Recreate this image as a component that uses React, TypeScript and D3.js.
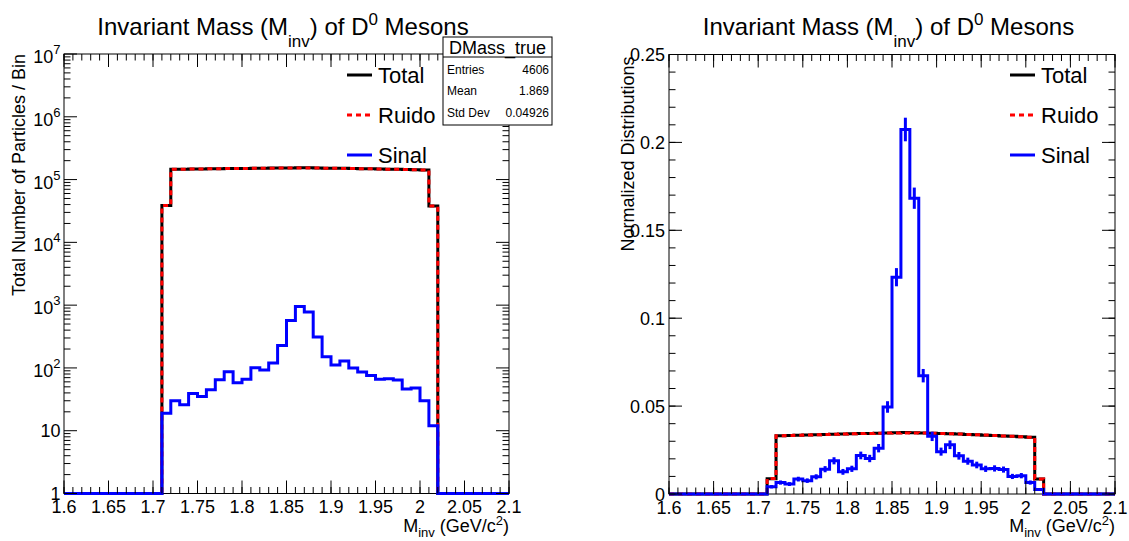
import React from 'react';
import * as d3 from 'd3';

// Histogram binning: 50 bins of 0.01 GeV/c^2 between 1.6 and 2.1
const X_MIN = 1.6;
const X_MAX = 2.1;
const N_BINS = 50;

// D0 signal ("Sinal") counts per bin
const sinalCounts = [
  0, 0, 0, 0, 0, 0, 0, 0, 0, 0, 0,
  19, 30, 26, 39, 35, 45, 65, 87, 58, 66,
  101, 93, 120, 228, 568, 955, 775, 310, 151, 111,
  129, 100, 86, 76, 66, 67, 64, 46, 48, 30,
  12,
  0, 0, 0, 0, 0, 0, 0, 0,
];

// Combinatorial background ("Ruido") counts per bin
const ruidoCounts = [
  0, 0, 0, 0, 0, 0, 0, 0, 0, 0, 0,
  38500, 145800, 146300, 147000, 147600, 148300, 149000, 149600, 150200, 150700,
  151200, 151700, 152100, 152400, 152700, 152900, 152800, 152500, 152000, 151400,
  150700, 150000, 149200, 148300, 147400, 146400, 145400, 144400, 143400, 142300,
  37800,
  0, 0, 0, 0, 0, 0, 0, 0,
];

// Total = background + signal
const totalCounts = ruidoCounts.map((r, i) => r + sinalCounts[i]);

const statsTitle = 'DMass_true';
const statsMean = '1.869';
const statsStdDev = '0.04926';

const legendLabels = ['Total', 'Ruido', 'Sinal'];

const W = 1129;
const H = 541;
const FONT = '"Liberation Sans", Arial, Helvetica, sans-serif';

const BLUE = '#0000ff';
const RED = '#ff0000';
const BLACK = '#000000';
const DASH = '5 4';

type Frame = { x0: number; x1: number; y0: number; y1: number };

const leftFrame: Frame = { x0: 64, x1: 509, y0: 54, y1: 493.5 };
const rightFrame: Frame = { x0: 669, x1: 1115, y0: 54.5, y1: 494 };

const binEdges = d3.range(N_BINS + 1).map((i) => X_MIN + (i * (X_MAX - X_MIN)) / N_BINS);
const binCenters = d3.range(N_BINS).map((i) => (binEdges[i] + binEdges[i + 1]) / 2);

const fmtX = (d: number) => String(+d.toFixed(2));

function stepPath(values: number[], x: (v: number) => number, y: (v: number) => number) {
  const pts: [number, number][] = [];
  values.forEach((v, i) => {
    pts.push([x(binEdges[i]), y(v)]);
    pts.push([x(binEdges[i + 1]), y(v)]);
  });
  return d3.line()(pts) || '';
}

const MAJOR = 13;
const MINOR = 6.5;
const LABEL_SIZE = 18;

function XAxis({ frame, x }: { frame: Frame; x: d3.ScaleLinear<number, number> }) {
  const major = x.ticks(10);
  const minor = x.ticks(50);
  return (
    <g>
      {minor.map((t, i) => (
        <g key={'m' + i}>
          <line x1={x(t)} x2={x(t)} y1={frame.y1} y2={frame.y1 - MINOR} stroke={BLACK} />
          <line x1={x(t)} x2={x(t)} y1={frame.y0} y2={frame.y0 + MINOR} stroke={BLACK} />
        </g>
      ))}
      {major.map((t, i) => (
        <g key={'M' + i}>
          <line x1={x(t)} x2={x(t)} y1={frame.y1} y2={frame.y1 - MAJOR} stroke={BLACK} />
          <line x1={x(t)} x2={x(t)} y1={frame.y0} y2={frame.y0 + MAJOR} stroke={BLACK} />
          <text x={x(t)} y={frame.y1 + 19.5} textAnchor="middle" fontSize={LABEL_SIZE}>
            {fmtX(t)}
          </text>
        </g>
      ))}
      <text x={frame.x1} y={532} textAnchor="end" fontSize={LABEL_SIZE}>
        M<tspan dy={5} fontSize={13}>inv</tspan>
        <tspan dy={-5}> (GeV/c</tspan>
        <tspan dy={-7} fontSize={13}>2</tspan>
        <tspan dy={7}>)</tspan>
      </text>
    </g>
  );
}

function LeftPanel() {
  const f = leftFrame;
  const x = d3.scaleLinear().domain([X_MIN, X_MAX]).range([f.x0, f.x1]);
  const yl = d3.scaleLog().domain([1, 1e7]).range([f.y1, f.y0]);
  const y = (v: number) => (v >= 1 ? yl(v) : f.y1);
  const logTicks = yl.ticks();
  const decades = d3.range(0, 8);
  const cx = (f.x0 + f.x1) / 2 - 3.5;
  return (
    <g>
      <rect x={f.x0} y={f.y0} width={f.x1 - f.x0} height={f.y1 - f.y0} fill="none" stroke={BLACK} />
      <path d={stepPath(totalCounts, x, y)} fill="none" stroke={BLACK} strokeWidth={3} />
      <path d={stepPath(ruidoCounts, x, y)} fill="none" stroke={RED} strokeWidth={3} strokeDasharray={DASH} />
      <path d={stepPath(sinalCounts, x, y)} fill="none" stroke={BLUE} strokeWidth={3} />
      <XAxis frame={f} x={x} />
      {logTicks.map((t, i) => {
        const isMajor = Math.abs(Math.log10(t) - Math.round(Math.log10(t))) < 1e-9;
        const len = isMajor ? MAJOR : MINOR;
        return (
          <g key={'y' + i}>
            <line x1={f.x0} x2={f.x0 + len} y1={yl(t)} y2={yl(t)} stroke={BLACK} />
            <line x1={f.x1} x2={f.x1 - len} y1={yl(t)} y2={yl(t)} stroke={BLACK} />
          </g>
        );
      })}
      {decades.map((k) => (
        <text key={'yl' + k} x={f.x0 - 3.5} y={yl(Math.pow(10, k)) + (k < 2 ? 6.5 : 9)} textAnchor="end" fontSize={LABEL_SIZE}>
          {k === 0 ? '1' : k === 1 ? '10' : (
            <>
              10<tspan dy={-9} fontSize={13}>{k}</tspan>
            </>
          )}
        </text>
      ))}
      <text transform={`translate(24.5,${f.y0}) rotate(-90)`} textAnchor="end" fontSize={LABEL_SIZE}>
        Total Number of Particles / Bin
      </text>
      <Title cx={cx} />
      <Legend x0={347} />
      <StatsBox />
    </g>
  );
}

function RightPanel() {
  const f = rightFrame;
  const x = d3.scaleLinear().domain([X_MIN, X_MAX]).range([f.x0, f.x1]);
  const y = d3.scaleLinear().domain([0, 0.25]).range([f.y1, f.y0]);
  const sumT = d3.sum(totalCounts);
  const sumR = d3.sum(ruidoCounts);
  const sumS = d3.sum(sinalCounts);
  const nT = totalCounts.map((v) => v / sumT);
  const nR = ruidoCounts.map((v) => v / sumR);
  const nS = sinalCounts.map((v) => v / sumS);
  const eS = sinalCounts.map((v) => Math.sqrt(v) / sumS);
  const major = y.ticks(5);
  const minor = y.ticks(25);
  const cx = (f.x0 + f.x1) / 2 - 3.5;
  return (
    <g>
      <rect x={f.x0} y={f.y0} width={f.x1 - f.x0} height={f.y1 - f.y0} fill="none" stroke={BLACK} />
      <path d={stepPath(nT, x, y)} fill="none" stroke={BLACK} strokeWidth={3} />
      <path d={stepPath(nR, x, y)} fill="none" stroke={RED} strokeWidth={3} strokeDasharray={DASH} />
      <path d={stepPath(nS, x, y)} fill="none" stroke={BLUE} strokeWidth={3} />
      {nS.map((v, i) =>
        eS[i] > 0 ? (
          <line key={'e' + i} x1={x(binCenters[i])} x2={x(binCenters[i])} y1={y(v - eS[i])} y2={y(v + eS[i])} stroke={BLUE} strokeWidth={3} />
        ) : null
      )}
      <XAxis frame={f} x={x} />
      {minor.map((t, i) => (
        <g key={'ym' + i}>
          <line x1={f.x0} x2={f.x0 + MINOR} y1={y(t)} y2={y(t)} stroke={BLACK} />
          <line x1={f.x1} x2={f.x1 - MINOR} y1={y(t)} y2={y(t)} stroke={BLACK} />
        </g>
      ))}
      {major.map((t, i) => (
        <g key={'yM' + i}>
          <line x1={f.x0} x2={f.x0 + MAJOR} y1={y(t)} y2={y(t)} stroke={BLACK} />
          <line x1={f.x1} x2={f.x1 - MAJOR} y1={y(t)} y2={y(t)} stroke={BLACK} />
          <text x={f.x0 - 4} y={y(t) + 6.5} textAnchor="end" fontSize={LABEL_SIZE}>
            {fmtX(t)}
          </text>
        </g>
      ))}
      <text transform={`translate(633.5,${f.y0 + 2}) rotate(-90)`} textAnchor="end" fontSize={LABEL_SIZE}>
        Normalized Distributions
      </text>
      <Title cx={cx} />
      <Legend x0={1010} />
    </g>
  );
}

function Title({ cx }: { cx: number }) {
  return (
    <text x={cx} y={35} textAnchor="middle" fontSize={24}>
      Invariant Mass (M<tspan dy={12} fontSize={17}>inv</tspan>
      <tspan dy={-12}>) of D</tspan>
      <tspan dy={-10} fontSize={17}>0</tspan>
      <tspan dy={10}> Mesons</tspan>
    </text>
  );
}

function Legend({ x0 }: { x0: number }) {
  const styles = [
    { color: BLACK, dash: undefined },
    { color: RED, dash: DASH },
    { color: BLUE, dash: undefined },
  ];
  return (
    <g>
      {legendLabels.map((lab, i) => {
        const yy = 75 + i * 40;
        return (
          <g key={lab}>
            <line x1={x0} x2={x0 + 25} y1={yy} y2={yy} stroke={styles[i].color} strokeWidth={3} strokeDasharray={styles[i].dash} />
            <text x={x0 + 31} y={yy + 8} fontSize={22}>
              {lab}
            </text>
          </g>
        );
      })}
    </g>
  );
}

function StatsBox() {
  const x0 = 443;
  const x1 = 552;
  const y0 = 37;
  const y1 = 125;
  const entries = String(d3.sum(sinalCounts));
  const rows: [string, string][] = [
    ['Entries', entries],
    ['Mean', statsMean],
    ['Std Dev', statsStdDev],
  ];
  return (
    <g>
      <rect x={x0} y={y0} width={x1 - x0} height={y1 - y0} fill="#fff" stroke={BLACK} />
      <line x1={x0} x2={x1} y1={57} y2={57} stroke={BLACK} />
      <text x={(x0 + x1) / 2} y={53.5} textAnchor="middle" fontSize={18}>
        {statsTitle}
      </text>
      {rows.map((r, i) => (
        <g key={r[0]}>
          <text x={x0 + 4} y={73.5 + i * 21.5} fontSize={12}>
            {r[0]}
          </text>
          <text x={x1 - 3} y={73.5 + i * 21.5} fontSize={12} textAnchor="end">
            {r[1]}
          </text>
        </g>
      ))}
    </g>
  );
}

export default function App() {
  return (
    <svg
      width={W}
      height={H}
      viewBox={`0 0 ${W} ${H}`}
      style={{ position: 'absolute', left: 0, top: 0, display: 'block', background: '#fff' }}
      fontFamily={FONT}
    >
      <rect x={0} y={0} width={W} height={H} fill="#fff" />
      <LeftPanel />
      <RightPanel />
    </svg>
  );
}
